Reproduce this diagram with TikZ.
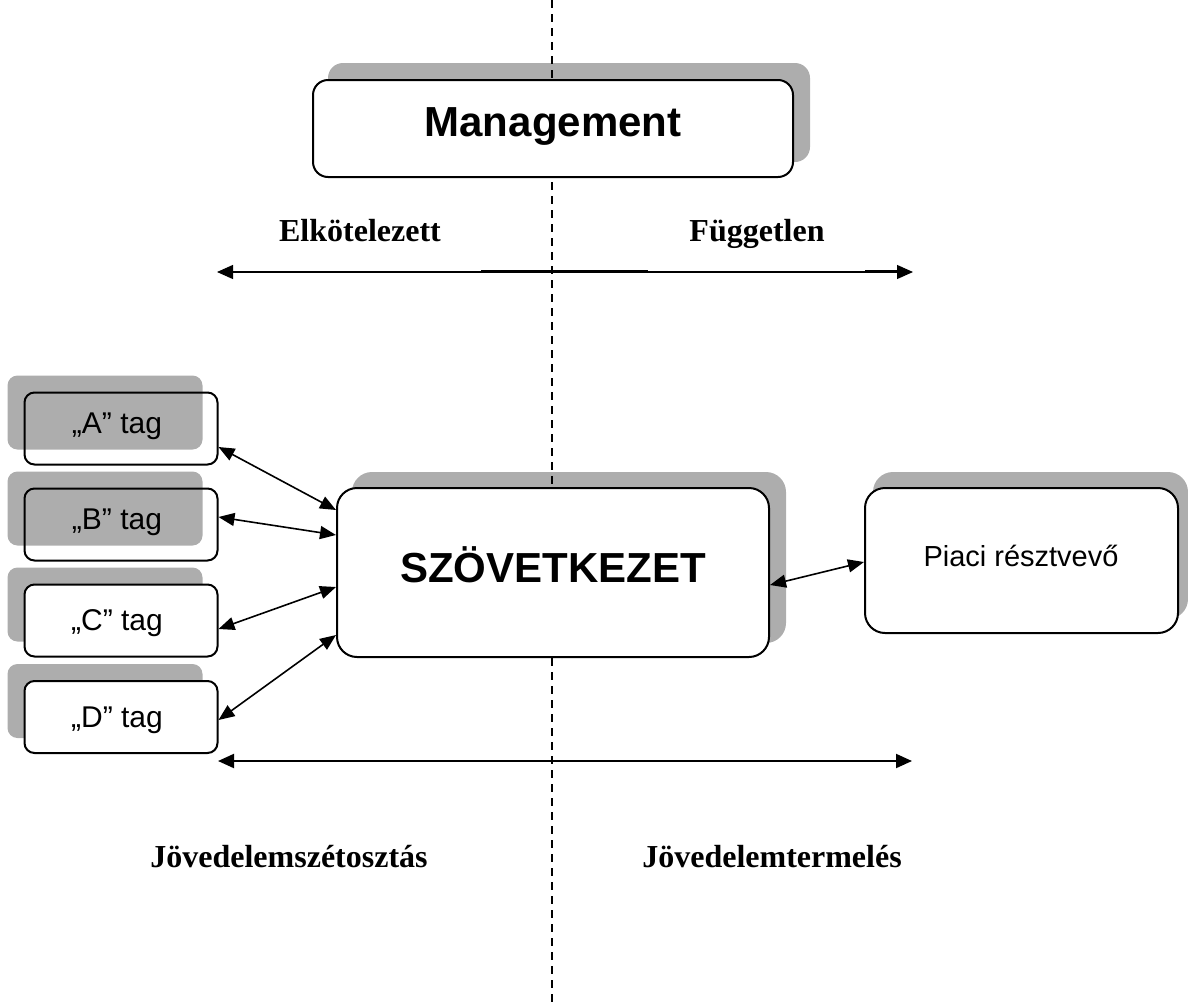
\documentclass[tikz,border=0pt]{standalone}
\usepackage{fontspec}
\setmainfont{Liberation Serif}
\newfontfamily\arialf{Liberation Sans}
\usetikzlibrary{arrows.meta}
\pgfdeclarelayer{back}
\pgfdeclarelayer{mid}
\pgfsetlayers{back,mid,main}
\begin{document}
\begin{tikzpicture}[x=1pt,y=-1pt,
  boxw/.style={draw=black, line width=2pt, fill=white, inner sep=0pt, rounded corners=#1},
  boxo/.style={draw=black, line width=2pt, inner sep=0pt, rounded corners=#1},
  tagbox/.style={minimum width=193pt, minimum height=72pt},
  shad/.style={fill=black!32, rounded corners=#1},
  bigtxt/.style={font=\arialf\bfseries\fontsize{42}{50}\selectfont, anchor=base, inner sep=0pt},
  tagtxt/.style={font=\arialf\fontsize{30}{36}\selectfont, anchor=base, inner sep=0pt},
  lbl/.style={font=\bfseries\fontsize{32}{38}\selectfont, anchor=base, inner sep=0pt},
  conn/.style={line width=1.6pt, {Triangle[length=16pt,width=13pt]}-{Triangle[length=16pt,width=13pt]}},
  axisarrow/.style={{Triangle[length=16pt,width=14pt]}-{Triangle[length=16pt,width=14pt]}},
  divider/.style={line width=1.6pt, dash pattern=on 8pt off 6pt}]
\useasboundingbox (0,0) rectangle (1188,1007);

% boxes
\node[boxw=15pt, minimum width=480pt, minimum height=97pt] (mgmt) at (553,128.5) {};
\node[boxo=10pt, tagbox] (A) at (121,428.5) {};
\node[boxo=10pt, tagbox] (B) at (121,524.5) {};
\node[boxw=10pt, tagbox] (C) at (121,620.5) {};
\node[boxw=10pt, tagbox] (D) at (121,717) {};
\node[boxw=20pt, minimum width=432pt, minimum height=169pt] (szov) at (553,572.5) {};
\node[boxw=20pt, minimum width=313pt, minimum height=145pt] (piaci) at (1021.5,560.5) {};

% shadows
\begin{pgfonlayer}{back}
\fill[shad=15pt] ([xshift=16pt,yshift=16pt]mgmt.south west) rectangle ([xshift=16pt,yshift=16pt]mgmt.north east);
\foreach \t in {A,B,C,D}{
  \fill[shad=10pt] ([xshift=-16pt,yshift=16pt]\t.south west) rectangle ([xshift=-16pt,yshift=16pt]\t.north east);
}
\fill[shad=20pt] ([xshift=16pt,yshift=15pt]szov.south west) rectangle ([xshift=16pt,yshift=15pt]szov.north east);
\fill[shad=20pt] ([xshift=9pt,yshift=15pt]piaci.south west) rectangle ([xshift=9pt,yshift=15pt]piaci.north east);
\end{pgfonlayer}

% dashed divider
\coordinate (dtop) at (552,0);
\coordinate (dbot) at (552,1007);
\begin{pgfonlayer}{mid}
\draw[divider] (dtop) -- (dbot);
\end{pgfonlayer}

% box texts
\node[bigtxt] (mgmtt) at (553,136) {Management};
\node[bigtxt] (szovt) at (553,582) {SZÖVETKEZET};
\node[tagtxt, font=\arialf\fontsize{29}{35}\selectfont] (piacit) at (1021,566) {Piaci résztvevő};
\node[tagtxt] (At) at (117,433) {„A” tag};
\node[tagtxt] (Bt) at (117,529) {„B” tag};
\node[tagtxt] (Ct) at (117,630) {„C” tag};
\node[tagtxt] (Dt) at (117,727) {„D” tag};

% labels
\node[lbl] (elk) at (360,241) {Elkötelezett};
\node[lbl] (fugg) at (757,241) {Független};
\node[lbl] (jsz) at (289,867) {Jövedelemszétosztás};
\node[lbl] (jt) at (772,867) {Jövedelemtermelés};

% top axis
\coordinate (tl) at (217,272);
\coordinate (tr) at (913,272);
\coordinate (s1a) at (481,271.3);
\coordinate (s1b) at (648,271.3);
\coordinate (s2a) at (865,271.3);
\coordinate (s2b) at (900,271.3);
\draw[line width=1.2pt, axisarrow] (tl) -- (tr);
\draw[line width=2pt] (s1a) -- (s1b);
\draw[line width=2pt] (s2a) -- (s2b);

% bottom axis
\coordinate (bl) at (218,761);
\coordinate (br) at (912,761);
\draw[line width=2pt, axisarrow] (bl) -- (br);

% connectors
\draw[conn] ([yshift=-18.5pt]A.east) -- ([yshift=62.5pt]szov.west);
\draw[conn] ([yshift=7.5pt]B.east) -- ([yshift=37.5pt]szov.west);
\draw[conn] ([yshift=-8.5pt]C.east) -- ([yshift=-14.5pt]szov.west);
\draw[conn] ([yshift=-3pt]D.east) -- ([yshift=-62.5pt]szov.west);
\draw[conn] ([yshift=-12.5pt]szov.east) -- ([yshift=-1.5pt]piaci.west);
\end{tikzpicture}
\end{document}
